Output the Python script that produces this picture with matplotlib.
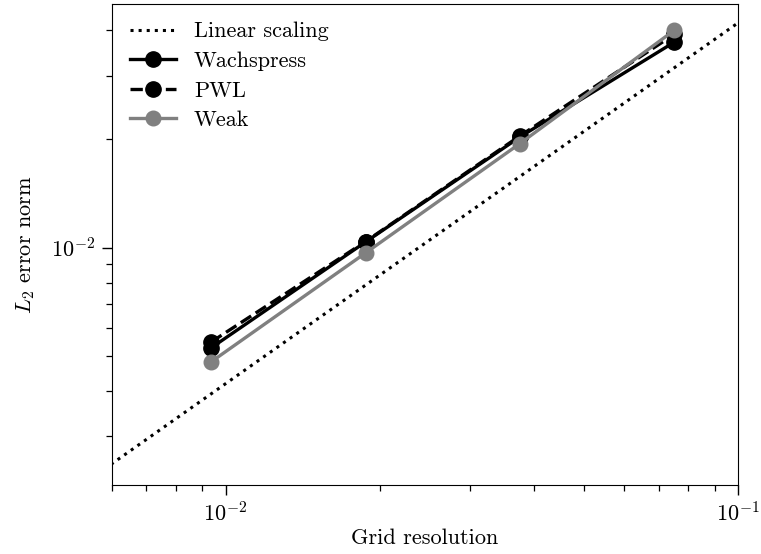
import numpy as np
import matplotlib
matplotlib.use("Agg")
import matplotlib.pyplot as plt
from matplotlib.ticker import NullFormatter

plt.rcParams['font.family'] = 'serif'
plt.rcParams['font.serif'] = ['cmr10']
plt.rcParams['mathtext.fontset'] = 'cm'
plt.rcParams['axes.formatter.use_mathtext'] = True
plt.rcParams['font.size'] = 16

# grid spacing and error norms
h = [0.009375, 0.01875, 0.0375, 0.075]
err_wachspress = [0.00528, 0.01037, 0.02026, 0.0371]
err_pwl = [0.00548, 0.0104, 0.0204, 0.0390]
err_weak = [0.00483, 0.00967, 0.01943, 0.0400]

# reference line: error = c * h
h_ref = [0.005, 0.12]
c_ref = 0.42

fig = plt.figure(figsize=(7.61, 5.54), dpi=100)
ax = fig.add_axes([0.147, 0.1245, 0.823, 0.868])

ax.loglog(h_ref, [c_ref * v for v in h_ref], ':', color='k', lw=2.2, label='Linear scaling')
ax.loglog(h, err_wachspress, '-o', color='k', lw=2.4, ms=11, label='Wachspress')
ax.loglog(h, err_pwl, '--o', color='k', lw=2.4, ms=11, label='PWL')
ax.loglog(h, err_weak, '-o', color='gray', lw=2.4, ms=10.5, label='Weak')

ax.set_xlim(0.006, 0.1)
ax.set_ylim(0.0022, 0.0473)
ax.xaxis.set_minor_formatter(NullFormatter())
ax.yaxis.set_minor_formatter(NullFormatter())
ax.tick_params(which='major', length=7, width=1.0, pad=5)
ax.tick_params(which='minor', length=4, width=0.9)

ax.set_xlabel('Grid resolution', labelpad=2)
ax.set_ylabel('$L_2$ error norm', labelpad=10)
ax.legend(loc='upper left', frameon=False, handlelength=2.1, borderaxespad=0.4,
          labelspacing=0.45, handletextpad=0.8)

fig.savefig('out.png', dpi=100)
